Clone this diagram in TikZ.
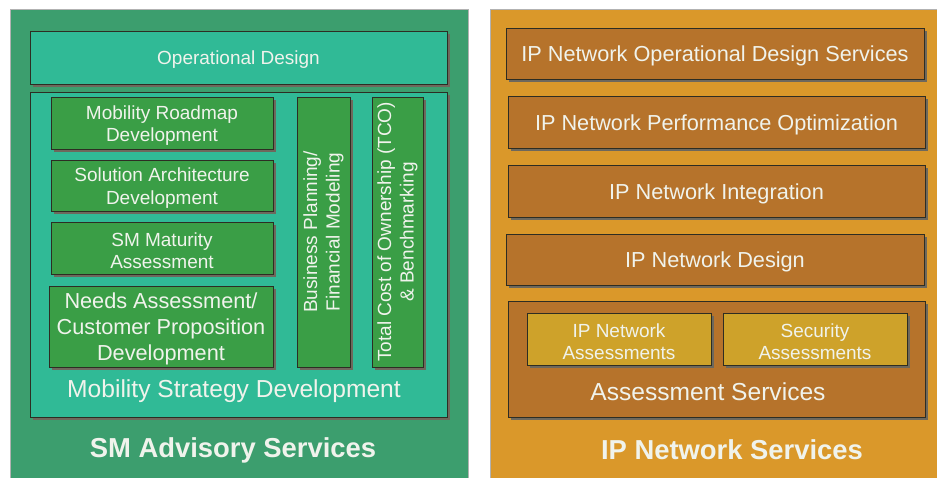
\documentclass[tikz,border=0pt]{standalone}
\usepackage{fontspec}
\setmainfont{Liberation Sans}
\usetikzlibrary{shadows}
\definecolor{panelgreen}{RGB}{60,158,110}
\definecolor{tealbox}{RGB}{48,186,150}
\definecolor{greenbox}{RGB}{58,158,70}
\definecolor{panelorange}{RGB}{218,152,42}
\definecolor{brownbox}{RGB}{182,115,43}
\definecolor{mustard}{RGB}{206,162,42}
\definecolor{shadowgray}{RGB}{110,104,92}
\definecolor{boxline}{RGB}{45,45,35}
\definecolor{txt}{RGB}{240,243,236}
\tikzset{
  panel/.style={rectangle, inner sep=0pt, draw=gray!60, line width=0.6pt},
  box/.style={rectangle, inner sep=0pt, draw=boxline, line width=0.9pt,
    text=txt, align=center,
    general shadow={fill=shadowgray, shadow xshift=3pt, shadow yshift=-3pt}},
  bt/.style={text=txt, align=center, inner sep=0pt, yshift=-2.5pt},
  small/.style={font=\fontsize{19}{22.5}\selectfont},
  mid/.style={font=\fontsize{21.7}{26}\selectfont},
  lbl/.style={text=txt, inner sep=0pt, font=\fontsize{24.6}{28}\selectfont},
  title/.style={text=txt, inner sep=0pt, font=\fontsize{27.4}{30}\selectfont\bfseries},
}
\begin{document}
\begin{tikzpicture}[x=1pt,y=-1pt]
\useasboundingbox (0,0) rectangle (937,478);
\fill[white] (0,0) rectangle (937,478);
% left panel
\node[panel, fill=panelgreen, minimum width=458pt, minimum height=471pt] (lp) at (239,244.5) {};
\node[box, fill=tealbox, minimum width=417pt, minimum height=53pt,
  label={[bt, small]center:Operational Design}] (opd) at (238.5,57.5) {};
\node[box, fill=tealbox, minimum width=417pt, minimum height=325pt] (msd) at (238.5,254.5) {};
\node[box, fill=greenbox, minimum width=222pt, minimum height=52pt,
  label={[bt, small]center:Mobility Roadmap\\Development}] (mrd) at (162,123) {};
\node[box, fill=greenbox, minimum width=222pt, minimum height=51pt,
  label={[bt, small]center:Solution Architecture\\Development}] (sad) at (162,185.5) {};
\node[box, fill=greenbox, minimum width=222pt, minimum height=52pt,
  label={[bt, small]center:SM Maturity\\Assessment}] (smm) at (162,248) {};
\node[box, fill=greenbox, minimum width=224pt, minimum height=81pt,
  label={[bt, font=\fontsize{21.7}{26}\selectfont]center:Needs Assessment/\\Customer Proposition\\Development}] (nad) at (161,326.5) {};
\node[box, fill=greenbox, small, rotate=90, minimum width=270pt, minimum height=53pt] (bpf) at (323.5,232) {Business Planning/\\Financial Modeling};
\node[box, fill=greenbox, small, rotate=90, minimum width=270pt, minimum height=51pt] (tco) at (397.5,232) {Total Cost of Ownership (TCO)\\\& Benchmarking};
\node[lbl] (msdl) at (234,391.5) {Mobility Strategy Development};
\node[title] (sma) at (233,450) {SM Advisory Services};
% right panel
\node[panel, fill=panelorange, minimum width=450pt, minimum height=471pt] (rp) at (715,244.5) {};
\node[box, fill=brownbox, minimum width=418pt, minimum height=51pt,
  label={[bt, mid]center:IP Network Operational Design Services}] (ipod) at (715,53.5) {};
\node[box, fill=brownbox, minimum width=417pt, minimum height=52pt,
  label={[bt, mid]center:IP Network Performance Optimization}] (ipp) at (716.5,122) {};
\node[box, fill=brownbox, minimum width=417pt, minimum height=52pt,
  label={[bt, mid]center:IP Network Integration}] (ipi) at (716.5,191) {};
\node[box, fill=brownbox, minimum width=418pt, minimum height=51pt,
  label={[bt, mid]center:IP Network Design}] (ipd) at (715,259.5) {};
\node[box, fill=brownbox, minimum width=417pt, minimum height=116pt] (ass) at (716.5,359) {};
\node[box, fill=mustard, minimum width=184pt, minimum height=52pt,
  label={[bt, small]center:IP Network\\Assessments}] (ipna) at (619,339) {};
\node[box, fill=mustard, minimum width=184pt, minimum height=52pt,
  label={[bt, small]center:Security\\Assessments}] (seca) at (815,339) {};
\node[lbl] (assl) at (708,391.5) {Assessment Services};
\node[title] (ipns) at (732,450) {IP Network Services};
\end{tikzpicture}
\end{document}
